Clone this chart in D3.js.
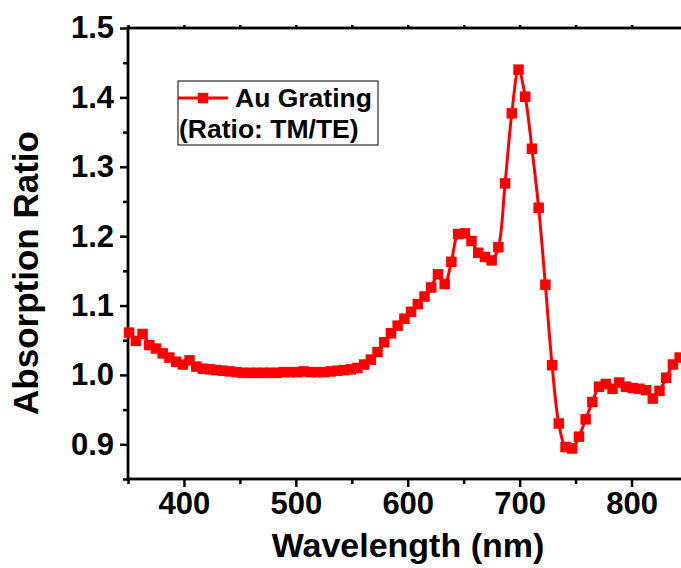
<!DOCTYPE html>
<html>
<head>
<meta charset="utf-8">
<script src="https://cdn.jsdelivr.net/npm/d3@7"></script>
<style>
  body { margin: 0; background: #fff; }
  svg { display: block; font-family: "Liberation Sans", Arial, sans-serif; font-weight: bold; }
</style>
</head>
<body>
<div id="graph1"></div>
<script>
// wavelength (nm) of each sample
let wavelength = [351, 357, 363, 369, 375, 381, 387, 393, 399, 405,
    411, 417, 423, 429, 435, 441, 447, 453, 459, 465,
    471, 477, 483, 489, 495, 501, 507, 513, 519, 525,
    531, 537, 543, 549, 555, 561, 567, 573, 579, 585,
    591, 597, 603, 609, 615, 621, 627, 633, 639, 645,
    651, 657, 663, 669, 675, 681, 687, 693, 699, 705,
    711, 717, 723, 729, 735, 741, 747, 753, 759, 765,
    771, 777, 783, 789, 795, 801, 807, 813, 819, 825,
    831, 837, 843];

// absorption ratio TM/TE for the Au grating
let ratio = [1.061, 1.049, 1.059, 1.043, 1.038, 1.031, 1.025, 1.019, 1.015, 1.021,
    1.012, 1.009, 1.008, 1.007, 1.006, 1.005, 1.004, 1.003, 1.003, 1.003,
    1.003, 1.003, 1.003, 1.004, 1.004, 1.004, 1.005, 1.004, 1.004, 1.004,
    1.005, 1.006, 1.007, 1.008, 1.010, 1.015, 1.022, 1.033, 1.047, 1.060,
    1.071, 1.081, 1.091, 1.102, 1.113, 1.126, 1.145, 1.131, 1.163, 1.203,
    1.204, 1.193, 1.176, 1.170, 1.165, 1.184, 1.276, 1.377, 1.440, 1.401,
    1.326, 1.241, 1.130, 1.014, 0.930, 0.896, 0.894, 0.911, 0.936, 0.961,
    0.983, 0.987, 0.980, 0.989, 0.983, 0.981, 0.980, 0.978, 0.966, 0.977,
    0.996, 1.015, 1.025];

// tick values
let xMajor = [400, 500, 600, 700, 800];
let xMinor = [350, 450, 550, 650, 750, 850];
let yMajor = [0.9, 1.0, 1.1, 1.2, 1.3, 1.4, 1.5];
let yMinor = [0.85, 0.95, 1.05, 1.15, 1.25, 1.35, 1.45];

let legendLabel = ["Au Grating", "(Ratio: TM/TE)"];

let width = 681, height = 568;
let plot = {left: 128, top: 28, right: 683, bottom: 479};

let data = wavelength.map(function(w, i) { return {x: w, y: ratio[i]}; });

let svg = d3.select("#graph1")
    .append("svg")
    .attr("width", width)
    .attr("height", height);

let x = d3.scaleLinear()
    .domain([350, 846])
    .range([plot.left, plot.right]);

let y = d3.scaleLinear()
    .domain([0.85, 1.5])
    .range([plot.bottom, plot.top]);

// helper to draw an axis without its domain path
function drawAxis(axis, transform, fontSize) {
    let g = svg.append("g")
        .attr("transform", transform)
        .call(axis);
    g.select(".domain").remove();
    g.selectAll("line").attr("stroke", "#000").attr("stroke-width", 2.5);
    g.selectAll("text").attr("fill", "#000").style("font-size", fontSize + "px")
        .style("font-family", "'Liberation Sans', Arial, sans-serif").style("font-weight", "bold");
    return g;
}

// bottom axis
drawAxis(d3.axisBottom(x).tickValues(xMajor).tickSize(8).tickPadding(5).tickFormat(d3.format("d")),
    `translate(0, ${plot.bottom})`, 31);
drawAxis(d3.axisBottom(x).tickValues(xMinor).tickSize(5).tickFormat(""),
    `translate(0, ${plot.bottom})`, 31);

// left axis
drawAxis(d3.axisLeft(y).tickValues(yMajor).tickSize(8).tickPadding(6).tickFormat(d3.format(".1f")),
    `translate(${plot.left}, 0)`, 31);
drawAxis(d3.axisLeft(y).tickValues(yMinor).tickSize(5).tickFormat(""),
    `translate(${plot.left}, 0)`, 31);

// top axis, tiny ticks only
drawAxis(d3.axisTop(x).tickValues(xMajor.concat(xMinor)).tickSize(3).tickFormat(""),
    `translate(0, ${plot.top})`, 31);

// frame
svg.append("rect")
    .attr("x", plot.left)
    .attr("y", plot.top)
    .attr("width", plot.right - plot.left)
    .attr("height", plot.bottom - plot.top)
    .attr("fill", "none")
    .attr("stroke", "#000")
    .attr("stroke-width", 2.8);

// data line
let line = d3.line()
    .x(function(d) { return x(d.x); })
    .y(function(d) { return y(d.y); })
    .curve(d3.curveCatmullRom);

svg.append("path")
    .datum(data)
    .attr("fill", "none")
    .attr("stroke", "#ff0000")
    .attr("stroke-width", 3)
    .attr("d", line);

let ms = 10.5;
svg.append("g").selectAll("rect")
    .data(data)
    .enter()
    .append("rect")
    .attr("x", function(d) { return x(d.x) - ms / 2; })
    .attr("y", function(d) { return y(d.y) - ms / 2; })
    .attr("width", ms)
    .attr("height", ms)
    .attr("fill", "#ff0000");

// legend
let legend = svg.append("g");
legend.append("rect")
    .attr("x", 178).attr("y", 81)
    .attr("width", 200).attr("height", 64)
    .attr("fill", "#fff")
    .attr("stroke", "#000")
    .attr("stroke-width", 1);
legend.append("line")
    .attr("x1", 178).attr("x2", 228)
    .attr("y1", 98).attr("y2", 98)
    .attr("stroke", "#ff0000").attr("stroke-width", 3);
legend.append("rect")
    .attr("x", 203 - ms / 2).attr("y", 98 - ms / 2)
    .attr("width", ms).attr("height", ms)
    .attr("fill", "#ff0000");
legend.append("text")
    .attr("x", 235).attr("y", 107)
    .style("font-size", "26.5px")
    .text(legendLabel[0]);
legend.append("text")
    .attr("x", 179).attr("y", 138)
    .style("font-size", "26.5px")
    .text(legendLabel[1]);

// x-axis label
svg.append("text")
    .attr("x", 408)
    .attr("y", 557)
    .style("text-anchor", "middle")
    .style("font-size", "34px")
    .text("Wavelength (nm)");

// y-axis label
svg.append("text")
    .attr("transform", "translate(38, 273) rotate(-90)")
    .style("text-anchor", "middle")
    .style("font-size", "35px")
    .text("Absorption Ratio");
</script>
</body>
</html>
